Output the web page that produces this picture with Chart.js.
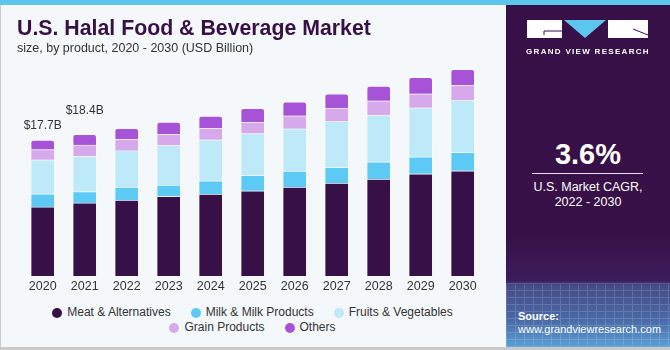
<!DOCTYPE html>
<html>
<head>
<meta charset="utf-8">
<script src="https://cdn.jsdelivr.net/npm/chart.js@4"></script>
<style>
  body { margin: 0; width: 670px; height: 350px; overflow: hidden; background: #f4f8fb; font-family: "Liberation Sans", Arial, sans-serif; }
  #page { position: relative; width: 670px; height: 350px; background: #f4f8fb; }
  #stripe { position: absolute; left: 0; top: 0; width: 670px; height: 5px; background: #5cc6ee; }
  #leftline { position: absolute; left: 0; top: 5px; width: 1px; height: 345px; background: #c9c9c9; }
  #bottomline { position: absolute; left: 0; top: 347px; width: 670px; height: 3px; background: #c9c9c9; }
  #title { position: absolute; left: 17px; top: 16px; font-size: 21.3px; font-weight: bold; color: #371047; white-space: nowrap; }
  #subtitle { position: absolute; left: 17px; top: 41px; font-size: 12.5px; color: #333; white-space: nowrap; }
  #chartbox { position: absolute; left: 0; top: 0; width: 505px; height: 300px; }
  #legend { position: absolute; left: 37px; top: 305px; width: 431px; display: flex; flex-wrap: wrap; justify-content: center; font-size: 12px; color: #333; line-height: 15px; }
  .item { display: flex; align-items: center; margin: 0 10px; white-space: nowrap; }
  .dot { width: 10px; height: 10px; border-radius: 50%; margin-right: 5px; }
  #panel { position: absolute; left: 506px; top: 5px; width: 164px; height: 342px;
    background: linear-gradient(to bottom, #371047 0px, #371047 230px, #3b1d5c 276px, #454a86 280px, #4a6aa6 315px, #5a9ed6 342px); overflow: hidden; }
  #mesh { position: absolute; left: 0; top: 278px; width: 164px; height: 64px; opacity: 0.14;
    background-image: repeating-linear-gradient(90deg, #ffffff 0 1px, transparent 1px 9px), repeating-linear-gradient(0deg, #ffffff 0 1px, transparent 1px 7px); }
  #brand { position: absolute; left: 0; top: 42px; width: 164px; text-align: center; color: #fff; font-size: 8px; font-weight: bold; letter-spacing: 1.3px; }
  #cagr { position: absolute; left: 0; top: 133px; width: 164px; text-align: center; color: #fff; font-size: 29px; font-weight: bold; }
  #rule { position: absolute; left: 26px; top: 168px; width: 111px; height: 1px; background: #e8e0ee; }
  #cagrtext { position: absolute; left: 0; top: 175px; width: 164px; text-align: center; color: #fff; font-size: 12.5px; line-height: 15px; }
  #source { position: absolute; left: 12px; top: 305px; color: #fff; font-size: 11px; line-height: 13px; }
</style>
</head>
<body>
<div id="page">
  <div id="chartbox"><canvas id="chart" width="505" height="300"></canvas></div>
  <div id="title">U.S. Halal Food &amp; Beverage Market</div>
  <div id="subtitle">size, by product, 2020 - 2030 (USD Billion)</div>
  <div id="legend"></div>
  <div id="panel">
    <div id="mesh"></div>
    <svg style="position:absolute;left:21px;top:15px" width="122" height="19" viewBox="0 0 122 19">
      <rect x="0" y="0" width="35" height="18" fill="#fff"/>
      <path d="M17 11 H35 M17 11 V15" stroke="#371047" stroke-width="1" fill="none"/>
      <polygon points="37,0 79,0 58,18" fill="#5cc6ee"/>
      <rect x="81" y="0" width="40" height="18" fill="#fff"/>
      <path d="M106 9 L121 15" stroke="#371047" stroke-width="1"/>
    </svg>
    <div id="brand">GRAND VIEW RESEARCH</div>
    <div id="cagr">3.6%</div>
    <div id="rule"></div>
    <div id="cagrtext">U.S. Market CAGR,<br>2022 - 2030</div>
    <div id="source"><b>Source:</b><br>www.grandviewresearch.com</div>
  </div>
  <div id="stripe"></div>
  <div id="leftline"></div>
  <div id="bottomline"></div>
</div>
<script>
// data (USD billion)
var years = ['2020','2021','2022','2023','2024','2025','2026','2027','2028','2029','2030'];
var meat   = [9.0, 9.52, 9.9, 10.38, 10.68, 11.1, 11.59, 12.1, 12.63, 13.32, 13.71];
var milk   = [1.7, 1.47, 1.69, 1.47, 1.73, 2.0, 2.08, 2.04, 2.25, 2.21, 2.4];
var fruits = [4.43, 4.61, 4.73, 5.17, 5.34, 5.47, 5.51, 5.99, 6.04, 6.38, 6.77];
var grain  = [1.34, 1.47, 1.48, 1.43, 1.48, 1.47, 1.69, 1.73, 1.9, 1.82, 1.95];
var others = [1.23, 1.38, 1.43, 1.6, 1.6, 1.78, 1.82, 1.86, 1.91, 2.14, 2.08];
var seriesNames = ['Meat & Alternatives', 'Milk & Milk Products', 'Fruits & Vegetables', 'Grain Products', 'Others'];
var seriesColors = ['#371047', '#5ccaf5', '#bde9f9', '#d5a9ec', '#a653d8'];
var valueLabels = ['$17.7B', '$18.4B'];

var seriesData = [meat, milk, fruits, grain, others];
var datasets = seriesData.map(function (d, i) {
    return {
        label: seriesNames[i],
        data: d,
        backgroundColor: seriesColors[i],
        borderColor: 'rgba(255,255,255,0.35)',
        borderWidth: 1,
        borderRadius: i == 4 ? {topLeft: 3, topRight: 3} : 0,
        borderSkipped: 'bottom',
        barThickness: 24
    };
});

// legend made in html so the rows can be spaced like the picture
var legend = document.getElementById('legend');
seriesNames.forEach(function (name, i) {
    var item = document.createElement('div');
    item.className = 'item';
    item.innerHTML = '<span class="dot" style="background:' + seriesColors[i] + '"></span>' + name.replace('&', '&amp;');
    legend.appendChild(item);
});

// writes $xx.xB above the first bars
const totalsPlugin = {
    id: 'totals',
    afterDatasetsDraw: (chart) => {
        const ctx = chart.ctx;
        const x = chart.scales.x;
        const y = chart.scales.y;
        const gaps = [11, 20];
        ctx.save();
        ctx.font = '12px "Liberation Sans", Arial, sans-serif';
        ctx.fillStyle = '#333';
        ctx.textAlign = 'center';
        ctx.textBaseline = 'alphabetic';
        for (var k = 0; k < valueLabels.length; k++) {
            var total = 0;
            for (var s = 0; s < seriesData.length; s++) total += seriesData[s][k];
            ctx.fillText(valueLabels[k], x.getPixelForValue(k), y.getPixelForValue(total) - gaps[k]);
        }
        ctx.restore();
    }
};

var myChart = new Chart(document.getElementById('chart').getContext('2d'), {
    type: 'bar',
    data: { labels: years, datasets: datasets },
    options: {
        responsive: false,
        animation: false,
        devicePixelRatio: 1,
        layout: { padding: { top: 61, left: 21.7, right: 21.3, bottom: 3 } },
        scales: {
            x: {
                stacked: true,
                grid: { display: false, drawTicks: false },
                border: { display: false },
                ticks: { color: '#333', font: { size: 12.5, family: '"Liberation Sans", Arial, sans-serif' }, padding: 3 }
            },
            y: {
                stacked: true,
                display: false,
                min: 0,
                max: 28
            }
        },
        plugins: {
            legend: { display: false },
            tooltip: { enabled: false }
        }
    },
    plugins: [totalsPlugin]
});
</script>
</body>
</html>
